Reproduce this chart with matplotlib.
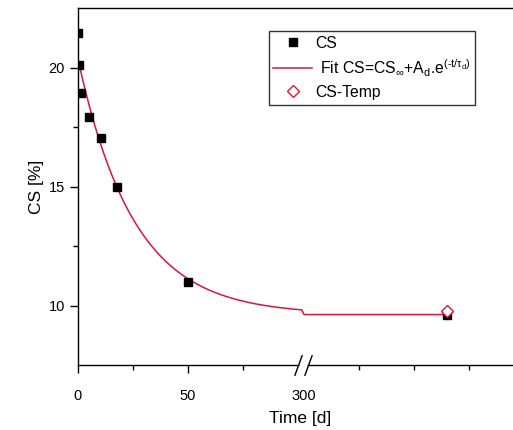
import numpy as np
import matplotlib
matplotlib.use("Agg")
import matplotlib.pyplot as plt
from matplotlib.transforms import blended_transform_factory

plt.rcParams['font.family'] = ['Liberation Sans', 'DejaVu Sans']
plt.rcParams['mathtext.fontset'] = 'custom'
plt.rcParams['mathtext.rm'] = 'Liberation Sans'
plt.rcParams['mathtext.it'] = 'Liberation Sans'

# measured data (days, %)
cs_time = [0, 0.6, 1.4, 5, 10.3, 18, 50, 560]
cs_value = [21.47, 20.12, 18.92, 17.92, 17.04, 15.0, 11.0, 9.61]
temp_time = [560]
temp_value = [9.78]

# fit parameters: CS = CS_inf + A_d * exp(-t/tau_d)
cs_inf = 9.62
a_d = 10.73
tau_d = 25.5
fit_left_end = 102
fit_right = [300, 560]

# broken x axis: 0..102 linear, gap 102..300 squeezed, then 1/4 scale
GAP_A, GAP_B = 102.0, 300.0
GAP_W = 1.0
K = 0.25


def fwd(x):
    x = np.asarray(x, dtype=float)
    return np.where(x <= GAP_A, x,
                    np.where(x < GAP_B, GAP_A + (x - GAP_A) / (GAP_B - GAP_A) * GAP_W,
                             GAP_A + GAP_W + (x - GAP_B) * K))


def inv(y):
    y = np.asarray(y, dtype=float)
    return np.where(y <= GAP_A, y,
                    np.where(y < GAP_A + GAP_W, GAP_A + (y - GAP_A) / GAP_W * (GAP_B - GAP_A),
                             GAP_B + (y - GAP_A - GAP_W) / K))


fig = plt.figure(figsize=(5.13, 4.30), dpi=100)
ax = fig.add_axes([78 / 513, 1 - 365 / 430, 1 - 78 / 513, (365 - 8) / 430])
ax.set_xscale('function', functions=(fwd, inv))

t_fit = np.concatenate([np.linspace(0, fit_left_end, 300),
                        np.linspace(fit_right[0], fit_right[1], 50)])
y_fit = cs_inf + a_d * np.exp(-t_fit / tau_d)

red = '#d9163a'
ax.plot(t_fit, y_fit, color=red, lw=1.1, zorder=2,
        label=r' Fit CS=CS$_{\infty}$+A$_{\rm d}$.e$^{(\text{-t/}\tau_{\rm d})}$')
ax.plot(cs_time, cs_value, 's', color='black', ms=6, zorder=3, label='CS')
ax.plot(temp_time, temp_value, 'D', mfc='white', mec=red, mew=1.0, ms=6,
        zorder=4, label='CS-Temp')

ax.set_ylim(7.5, 22.5)
ax.set_xlim(0, 681)

ax.set_yticks([10, 15, 20])
ax.set_yticks([12.5, 17.5], minor=True)
ax.set_xticks([0, 50, 300])
ax.set_xticklabels(['0', '50', '300'])
ax.set_xticks([25, 75, 400, 500, 600], minor=True)
ax.tick_params(axis='both', which='major', labelsize=10.5, length=6, width=1,
               direction='out')
ax.tick_params(axis='both', which='minor', length=3.5, width=1, direction='out')
ax.tick_params(axis='x', which='major', pad=11)
# no tick mark at the break itself
ax.xaxis.get_major_ticks()[2].tick1line.set_visible(False)

for s in ['left', 'bottom', 'top']:
    ax.spines[s].set_linewidth(1.0)
ax.spines['right'].set_visible(False)

ax.set_xlabel('Time [d]', fontsize=12.5)
ax.set_ylabel('CS [%]', fontsize=12.5, labelpad=3.5)
ax.xaxis.set_label_coords(0.51, -0.13)

# axis break marks
trans = blended_transform_factory(ax.transData, ax.transAxes)
xb = float(inv(GAP_A + GAP_W / 2))
ax.plot([xb], [0], marker='s', ms=6, color='white', mec='none',
        transform=trans, clip_on=False, zorder=5)
for dx in (-2.2, 2.2):
    xm = float(inv(fwd(xb) + dx))
    ax.plot([xm], [0], marker=(2, 0, -20), ms=16, color='black', mew=1.0,
            transform=trans, clip_on=False, zorder=6)

handles, labels = ax.get_legend_handles_labels()
order = [1, 0, 2]
leg = ax.legend([handles[i] for i in order], [labels[i] for i in order],
                loc='upper left', bbox_to_anchor=(0.438, 0.935), fontsize=11.3,
                frameon=True, fancybox=False, edgecolor='black',
                handlelength=2.5, labelspacing=0.4, borderpad=0.3,
                handletextpad=0.2, borderaxespad=0)
leg.get_frame().set_linewidth(1.0)

fig.savefig('out.png', dpi=100)
